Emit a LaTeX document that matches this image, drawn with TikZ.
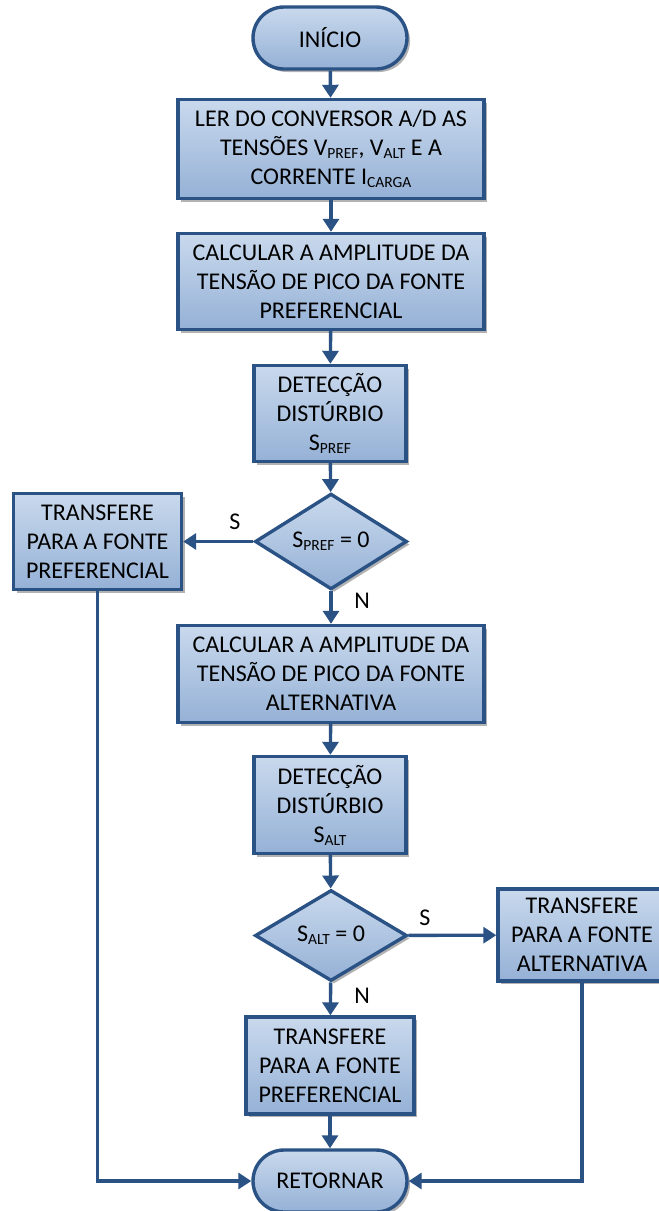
\documentclass[tikz,border=0pt]{standalone}
\usepackage{fontspec}
\setmainfont{Carlito}
\usetikzlibrary{shapes.geometric,shadows,arrows.meta}
\definecolor{bord}{HTML}{2A5285}
\definecolor{ftop}{HTML}{C9D9ED}
\definecolor{fbot}{HTML}{95B1D6}
\newcommand\lowsub[1]{\raisebox{-0.13em}{\fontsize{15.5pt}{15.5pt}\selectfont #1}}
\begin{document}
\begin{tikzpicture}[x=1pt,y=-1pt,
  base/.style={draw=bord, line width=3.4pt, top color=ftop, bottom color=fbot,
    drop shadow={shadow xshift=3pt,shadow yshift=-3pt,fill=black,opacity=0.3},
    align=center, inner sep=0pt, font=\fontsize{24pt}{29pt}\selectfont},
  procbox/.style 2 args={base, rectangle, minimum width=#1, minimum height=#2},
  termbox/.style={base, rectangle, rounded corners=31pt, minimum width=154pt, minimum height=62pt},
  decbox/.style={base, diamond, minimum width=152pt, minimum height=91pt},
  conn/.style={draw=bord, line width=3.4pt, -{Triangle[length=13pt,width=16pt]}},
  lbl/.style={font=\fontsize{24pt}{29pt}\selectfont, inner sep=0pt}
]
\useasboundingbox (0,0) rectangle (659,1211);
\clip (0,0) rectangle (659,1211);

\node[termbox] (start) at (330,38) {INÍCIO};
\node[procbox={306pt}{99pt}] (b1) at (331,149) {LER DO CONVERSOR A/D AS\\TENSÕES V\lowsub{PREF}, V\lowsub{ALT} E A\\CORRENTE I\lowsub{CARGA}};
\node[procbox={306pt}{96pt}] (b2) at (331,281.5) {CALCULAR A AMPLITUDE DA\\TENSÃO DE PICO DA FONTE\\PREFERENCIAL};
\node[procbox={152pt}{96pt}] (b3) at (330,413.5) {DETECÇÃO\\DISTÚRBIO\\S\lowsub{PREF}};
\node[decbox] (d1) at (331,541.5) {S\lowsub{PREF} = 0};
\node[procbox={168pt}{96pt}] (lb) at (97.5,541.5) {TRANSFERE\\PARA A FONTE\\PREFERENCIAL};
\node[procbox={306pt}{97pt}] (b4) at (331,674) {CALCULAR A AMPLITUDE DA\\TENSÃO DE PICO DA FONTE\\ALTERNATIVA};
\node[procbox={152pt}{97pt}] (b5) at (330,805) {DETECÇÃO\\DISTÚRBIO\\S\lowsub{ALT}};
\node[decbox] (d2) at (331,935.5) {S\lowsub{ALT} = 0};
\node[procbox={168pt}{92pt}] (rb) at (582,935) {TRANSFERE\\PARA A FONTE\\ALTERNATIVA};
\node[procbox={168pt}{97pt}] (b6) at (330,1065.5) {TRANSFERE\\PARA A FONTE\\PREFERENCIAL};
\node[termbox] (end) at (330,1181) {RETORNAR};

\draw[conn] (start) -- (b1);
\draw[conn] (b1) -- (b2);
\draw[conn] (b2) -- (b3);
\draw[conn] (b3) -- (d1);
\draw[conn] (d1) -- (lb);
\draw[conn] (d1) -- (b4);
\draw[conn] (b4) -- (b5);
\draw[conn] (b5) -- (d2);
\draw[conn] (d2) -- (rb);
\draw[conn] (d2) -- (b6);
\draw[conn] (b6) -- (end);
\draw[conn] (lb.south) |- (end.west);
\draw[conn] (rb.south) |- (end.east);

\node[lbl] (s1) at (235,522) {S};
\node[lbl] (n1) at (362,601) {N};
\node[lbl] (s2) at (425,918) {S};
\node[lbl] (n2) at (362,996) {N};
\end{tikzpicture}
\end{document}
